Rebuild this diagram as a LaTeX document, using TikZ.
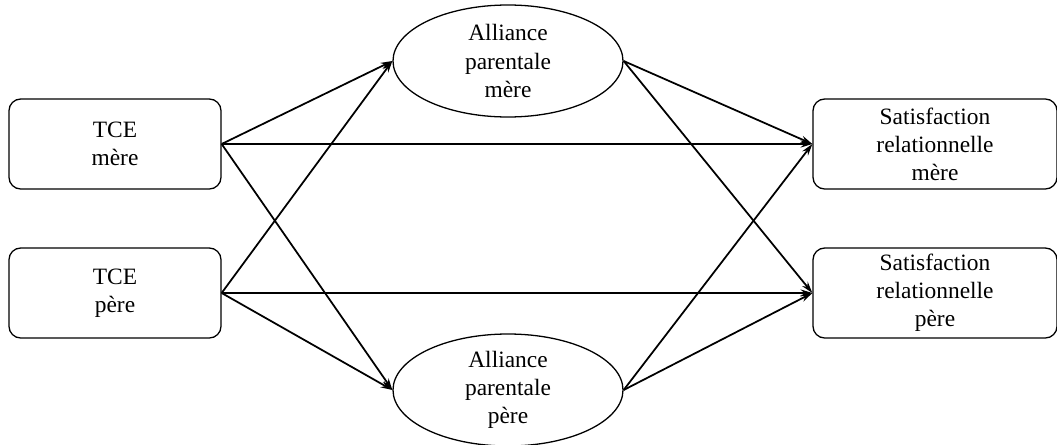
\documentclass[tikz,border=0pt]{standalone}
\usepackage{fontspec}
\setmainfont{Liberation Serif}
\usepackage{tikz}
\usetikzlibrary{shapes.geometric,arrows.meta}
\tikzset{
  obs/.style={draw, rounded corners=10pt, line width=1.1pt, align=center, inner sep=0pt, minimum height=2.7cm},
  lat/.style={draw, ellipse, line width=1.1pt, align=center, inner sep=0pt, minimum width=6.9cm, minimum height=3.36cm},
  eff/.style={draw, line width=1.5pt, -{Stealth[length=10pt,width=6pt]}},
  every node/.style={font=\fontsize{20}{24}\selectfont}
}

\begin{document}
\begin{tikzpicture}[x=0.03cm,y=-0.03cm]
  \useasboundingbox (0,0) rectangle (1057,444);

  % variables observees
  \node[obs, minimum width=6.36cm] (tcem) at (115,144) {TCE\\mère};
  \node[obs, minimum width=6.36cm] (tcep) at (115,293) {TCE\\père};
  \node[obs, minimum width=7.32cm] (satm) at (935,144) {Satisfaction\\relationnelle\\mère};
  \node[obs, minimum width=7.32cm] (satp) at (935,293) {Satisfaction\\relationnelle\\père};

  % mediateurs
  \node[lat] (allm) at (508,61) {Alliance\\parentale\\mère};
  \node[lat] (allp) at (508,390) {Alliance\\parentale\\père};

  % effets
  \draw[eff] (tcem.east) -- (allm.west);
  \draw[eff] (tcem.east) -- (allp.west);
  \draw[eff] (tcem.east) -- (satm.west);
  \draw[eff] (tcep.east) -- (allm.west);
  \draw[eff] (tcep.east) -- (allp.west);
  \draw[eff] (tcep.east) -- (satp.west);
  \draw[eff] (allm.east) -- (satm.west);
  \draw[eff] (allm.east) -- (satp.west);
  \draw[eff] (allp.east) -- (satm.west);
  \draw[eff] (allp.east) -- (satp.west);
\end{tikzpicture}
\end{document}
